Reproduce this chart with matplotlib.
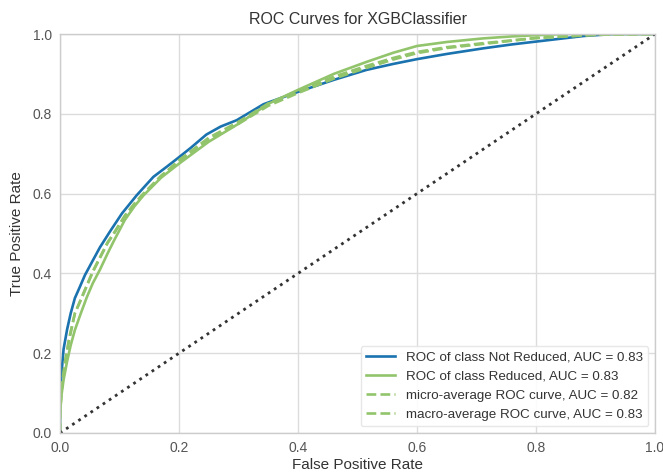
import matplotlib
matplotlib.use("Agg")
import matplotlib.pyplot as plt

plt.rcParams['font.family'] = ['Liberation Sans', 'DejaVu Sans']

title = "ROC Curves for XGBClassifier"
xlabel = "False Positive Rate"
ylabel = "True Positive Rate"

# ROC of class Not Reduced
fpr_not_reduced = [0, 0, 0.002, 0.006, 0.012, 0.018, 0.025, 0.033, 0.042, 0.055, 0.067, 0.084, 0.104,
                   0.129, 0.157, 0.18, 0.199, 0.22, 0.246, 0.27, 0.297, 0.342, 0.40, 0.46, 0.515,
                   0.56, 0.60, 0.65, 0.711, 0.76, 0.80, 0.84, 0.88, 0.93, 1.0]
tpr_not_reduced = [0, 0.06, 0.14, 0.21, 0.26, 0.30, 0.338, 0.365, 0.396, 0.432, 0.465, 0.505, 0.55,
                   0.596, 0.642, 0.668, 0.69, 0.715, 0.748, 0.768, 0.784, 0.824, 0.855, 0.885, 0.91,
                   0.925, 0.937, 0.95, 0.964, 0.974, 0.981, 0.988, 0.995, 1.0, 1.0]

# ROC of class Reduced
fpr_reduced = [0, 0, 0.002, 0.006, 0.012, 0.018, 0.025, 0.035, 0.045, 0.055, 0.067, 0.08, 0.09,
               0.109, 0.125, 0.14, 0.17, 0.20, 0.25, 0.30, 0.35, 0.40, 0.46, 0.515, 0.56, 0.60,
               0.65, 0.711, 0.76, 0.80, 0.85, 1.0]
tpr_reduced = [0, 0.04, 0.09, 0.133, 0.18, 0.22, 0.258, 0.30, 0.34, 0.375, 0.409, 0.45, 0.48,
               0.534, 0.568, 0.595, 0.64, 0.675, 0.73, 0.775, 0.825, 0.86, 0.90, 0.93, 0.953, 0.97,
               0.98, 0.989, 0.994, 0.997, 1.0, 1.0]

# micro-average
fpr_micro = [0, 0, 0.003, 0.008, 0.015, 0.025, 0.035, 0.045, 0.055, 0.067, 0.08, 0.09, 0.109,
             0.125, 0.14, 0.17, 0.20, 0.25, 0.30, 0.35, 0.40, 0.46, 0.515, 0.56, 0.60, 0.65,
             0.711, 0.80, 0.90, 1.0]
tpr_micro = [0, 0.05, 0.11, 0.17, 0.23, 0.30, 0.335, 0.37, 0.405, 0.44, 0.478, 0.50, 0.545,
             0.575, 0.60, 0.645, 0.68, 0.735, 0.775, 0.82, 0.852, 0.888, 0.915, 0.936, 0.952, 0.965,
             0.975, 0.99, 0.998, 1.0]

# macro-average
fpr_macro = [0, 0, 0.003, 0.008, 0.015, 0.025, 0.035, 0.045, 0.055, 0.067, 0.08, 0.09, 0.109,
             0.125, 0.14, 0.17, 0.20, 0.25, 0.30, 0.35, 0.40, 0.46, 0.515, 0.56, 0.60, 0.65,
             0.711, 0.80, 0.90, 1.0]
tpr_macro = [0, 0.05, 0.115, 0.175, 0.235, 0.30, 0.333, 0.368, 0.403, 0.438, 0.476, 0.498, 0.543,
             0.573, 0.597, 0.643, 0.684, 0.74, 0.78, 0.826, 0.858, 0.893, 0.92, 0.94, 0.955, 0.967,
             0.977, 0.99, 0.998, 1.0]

labels = ["ROC of class Not Reduced, AUC = 0.83",
          "ROC of class Reduced, AUC = 0.83",
          "micro-average ROC curve, AUC = 0.82",
          "macro-average ROC curve, AUC = 0.83"]

blue = "#1a72ae"
green = "#92c46c"

fig = plt.figure(figsize=(6.63, 4.73), dpi=100)
ax = fig.add_axes([0.0905, 0.0846, 0.8975, 0.8435])

ax.grid(True, color="#dcdcdc", linewidth=1.0)
ax.set_axisbelow(True)

ax.plot(fpr_not_reduced, tpr_not_reduced, color=blue, lw=1.9, label=labels[0])
ax.plot(fpr_reduced, tpr_reduced, color=green, lw=1.9, label=labels[1])
ax.plot(fpr_micro, tpr_micro, color=green, lw=1.9, linestyle="--", label=labels[2])
ax.plot(fpr_macro, tpr_macro, color=green, lw=1.9, linestyle="--", label=labels[3])
ax.plot([0, 1], [0, 1], linestyle=":", color="#333333", lw=2)

ax.set_xlim(0, 1)
ax.set_ylim(0, 1)
ax.set_xticks([0, 0.2, 0.4, 0.6, 0.8, 1.0])
ax.set_yticks([0, 0.2, 0.4, 0.6, 0.8, 1.0])
ax.tick_params(length=0, labelsize=10, labelcolor="#555555", pad=6)
for s in ax.spines.values():
    s.set_color("#cccccc")
    s.set_linewidth(1.0)

ax.set_title(title, fontsize=11.5, color="#333333", pad=7)
ax.set_xlabel(xlabel, fontsize=11, color="#333333", labelpad=2)
ax.set_ylabel(ylabel, fontsize=11, color="#333333", labelpad=6)

leg = ax.legend(loc="lower right", fontsize=9.6, frameon=True, facecolor="white",
                edgecolor="#e5e5e5", framealpha=0.9, handlelength=2.2, labelcolor="#333333",
                borderaxespad=0.5)

fig.savefig("out.png", dpi=100)
